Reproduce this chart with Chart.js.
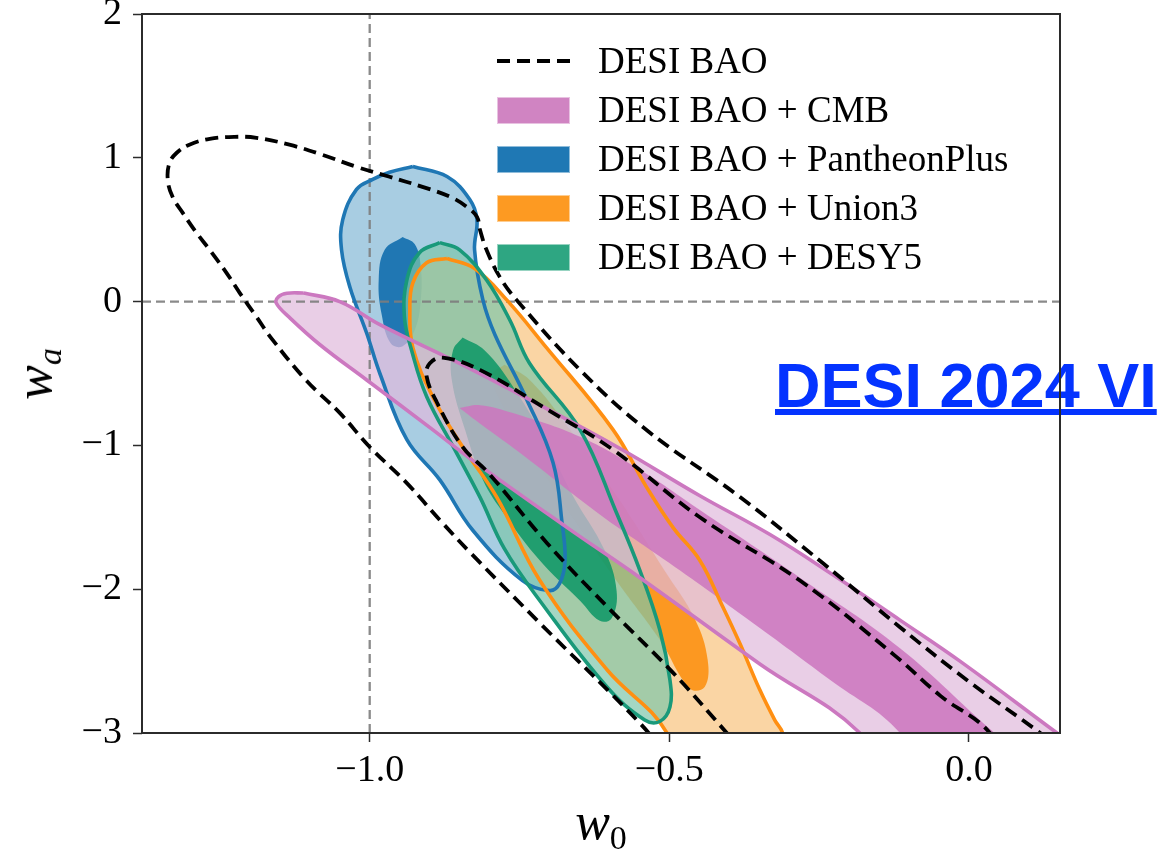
<!DOCTYPE html>
<html>
<head>
<meta charset="utf-8">
<title>w0 - wa</title>
<script src="https://cdn.jsdelivr.net/npm/chart.js@4.4.1/dist/chart.umd.min.js"></script>
<style>
  html, body { margin: 0; padding: 0; background: #fff; }
  #wrap { position: relative; width: 1176px; height: 861px; overflow: hidden; }
  #plot { position: absolute; left: 0; top: 0; z-index: 1; }
  .serif { font-family: "Liberation Serif", "Times New Roman", serif; color: #000; }
  .tag {
    position: absolute; left: 775px; top: 354px; z-index: 0;
    font: bold 63px/63px "Liberation Sans", Arial, sans-serif;
    color: #0433ff; white-space: nowrap;
    text-decoration: underline; text-decoration-thickness: 6px; text-underline-offset: 2px;
  }
  .legend { position: absolute; left: 0; top: 0; z-index: 2; }
  .legend .row { position: absolute; left: 497px; height: 36px; white-space: nowrap; }
  .legend .swatch { position: absolute; left: 0; top: 4.5px; width: 73px; height: 27px; box-sizing: border-box; }
  .legend .dash { position: absolute; left: 0; top: 16px; width: 73px; height: 3.5px;
    background: repeating-linear-gradient(to right, #000 0 13px, transparent 13px 20px); }
  .legend .label { position: absolute; left: 101px; top: 0; font-size: 37px; line-height: 36px; }
  .axtitle { position: absolute; z-index: 2; font-size: 52px; line-height: 52px; white-space: nowrap; }
  .axtitle .sub { font-size: 34px; position: relative; top: 10px; font-style: normal; }
</style>
</head>
<body>
<div id="wrap">
  <a class="tag" href="https://arxiv.org/abs/2404.03002">DESI 2024 VI</a>
  <canvas id="plot" width="1176" height="861"></canvas>
  <div class="legend serif" id="legend"></div>
  <div class="axtitle serif" style="left:601px; top:796px; transform:translateX(-50%);"><i>w</i><span class="sub">0</span></div>
  <div class="axtitle serif" style="left:37px; top:374px; transform:translate(-50%,-50%) rotate(-90deg);"><i>w</i><span class="sub"><i>a</i></span></div>
</div>
<script>
// ── Ejes ────────────────────────────────────────────────────────────────
const W0_MIN = -1.38, W0_MAX = 0.152;
const WA_MIN = -3, WA_MAX = 2;
const X_TICKS = [-1.0, -0.5, 0.0];
const X_TICK_LABELS = ['\u22121.0', '\u22120.5', '0.0'];
const Y_TICKS = [-3, -2, -1, 0, 1, 2];
const Y_TICK_LABELS = ['\u22123', '\u22122', '\u22121', '0', '1', '2'];

// lineas de referencia (LCDM)
const REF_W0 = -1;
const REF_WA = 0;

// ── Contornos [w0, wa] ──────────────────────────────────────────────────
// DESI BAO (solo lineas, se salen por abajo)
const BAO_95 = [[0.185,-3.22],[0.119,-3.00],[-0.003,-2.633],[-0.115,-2.264],[-0.244,-1.818],[-0.382,-1.359],[-0.538,-0.893],[-0.649,-0.475],[-0.755,0.012],[-0.783,0.172],[-0.805,0.36],[-0.816,0.499],[-0.821,0.589],[-0.838,0.659],[-0.866,0.729],[-0.912,0.798],[-0.967,0.868],[-1.022,0.937],[-1.079,1.021],[-1.134,1.091],[-1.189,1.139],[-1.225,1.146],[-1.267,1.132],[-1.301,1.091],[-1.322,1.035],[-1.334,0.965],[-1.337,0.847],[-1.329,0.729],[-1.312,0.617],[-1.289,0.478],[-1.267,0.36],[-1.239,0.20],[-1.217,0.061],[-1.189,-0.106],[-1.162,-0.266],[-1.105,-0.552],[-1.050,-0.774],[-1.000,-1.011],[-0.938,-1.262],[-0.883,-1.519],[-0.833,-1.742],[-0.716,-2.236],[-0.549,-2.932],[-0.499,-3.189]];
const BAO_68 = [[0.085,-3.40],[0.035,-3.00],[-0.048,-2.74],[-0.124,-2.46],[-0.282,-1.94],[-0.449,-1.50],[-0.594,-1.03],[-0.704,-0.75],[-0.816,-0.475],[-0.878,-0.39],[-0.900,-0.43],[-0.905,-0.52],[-0.888,-0.70],[-0.845,-1.01],[-0.800,-1.20],[-0.704,-1.68],[-0.604,-2.12],[-0.494,-2.58],[-0.404,-3.00],[-0.349,-3.26]];

// DESI BAO + CMB
const CMB_95 = [[-1.110,0.06],[-1.050,0.00],[-0.983,-0.16],[-0.850,-0.43],[-0.716,-0.72],[-0.583,-1.02],[-0.449,-1.35],[-0.332,-1.62],[-0.227,-1.90],[-0.115,-2.215],[-0.015,-2.50],[0.147,-3.00],[0.219,-3.22],[-0.149,-3.33],[-0.182,-3.00],[-0.349,-2.52],[-0.549,-1.92],[-0.671,-1.57],[-0.833,-1.09],[-0.895,-0.89],[-1.005,-0.545],[-1.083,-0.30],[-1.134,-0.11],[-1.156,-0.01],[-1.152,0.035],[-1.138,0.058]];
const CMB_68 = [[-0.850,-0.74],[-0.816,-0.72],[-0.761,-0.775],[-0.649,-0.94],[-0.549,-1.17],[-0.449,-1.45],[-0.282,-1.92],[-0.115,-2.41],[0.043,-3.00],[0.102,-3.19],[-0.082,-3.33],[-0.115,-3.00],[-0.232,-2.63],[-0.349,-2.27],[-0.482,-1.87],[-0.616,-1.48],[-0.750,-1.05],[-0.825,-0.82]];

// DESI BAO + PantheonPlus
const PAN_95 = [[-0.928,0.94],[-0.871,0.87],[-0.833,0.71],[-0.821,0.57],[-0.825,0.36],[-0.811,0.01],[-0.791,-0.23],[-0.738,-0.68],[-0.694,-1.12],[-0.679,-1.54],[-0.674,-1.80],[-0.683,-1.96],[-0.700,-2.01],[-0.745,-1.94],[-0.828,-1.59],[-0.883,-1.24],[-0.938,-0.96],[-0.983,-0.50],[-1.005,-0.22],[-1.033,0.10],[-1.047,0.36],[-1.045,0.57],[-1.022,0.78],[-0.995,0.85],[-0.967,0.90]];
const PAN_68 = [[-0.945,0.45],[-0.925,0.40],[-0.915,0.25],[-0.915,0.00],[-0.925,-0.20],[-0.945,-0.31],[-0.965,-0.29],[-0.980,-0.09],[-0.985,0.15],[-0.975,0.36]];

// DESI BAO + Union3
const UN3_95 = [[-0.871,0.30],[-0.825,0.23],[-0.771,0.01],[-0.705,-0.32],[-0.594,-0.89],[-0.538,-1.29],[-0.494,-1.57],[-0.449,-1.80],[-0.411,-2.12],[-0.382,-2.38],[-0.349,-2.70],[-0.324,-2.91],[-0.311,-3.00],[-0.299,-3.33],[-0.499,-3.33],[-0.504,-3.00],[-0.604,-2.56],[-0.716,-1.94],[-0.788,-1.36],[-0.845,-1.01],[-0.895,-0.66],[-0.928,-0.32],[-0.933,-0.06],[-0.928,0.13],[-0.905,0.27]];
const UN3_68 = [[-0.775,-0.44],[-0.733,-0.545],[-0.666,-0.89],[-0.583,-1.38],[-0.508,-1.87],[-0.457,-2.21],[-0.436,-2.49],[-0.441,-2.68],[-0.466,-2.69],[-0.516,-2.35],[-0.583,-1.97],[-0.658,-1.52],[-0.733,-1.03],[-0.783,-0.68],[-0.795,-0.51]];

// DESI BAO + DESY5
const DES_95 = [[-0.883,0.41],[-0.850,0.36],[-0.805,0.15],[-0.766,-0.13],[-0.733,-0.43],[-0.649,-0.89],[-0.588,-1.47],[-0.549,-1.87],[-0.516,-2.28],[-0.499,-2.63],[-0.499,-2.82],[-0.516,-2.92],[-0.541,-2.91],[-0.604,-2.68],[-0.716,-2.08],[-0.775,-1.72],[-0.816,-1.36],[-0.858,-1.03],[-0.905,-0.66],[-0.930,-0.34],[-0.942,-0.11],[-0.938,0.15],[-0.917,0.34]];
const DES_68 = [[-0.845,-0.25],[-0.808,-0.34],[-0.761,-0.59],[-0.708,-0.96],[-0.661,-1.35],[-0.608,-1.73],[-0.588,-2.01],[-0.596,-2.20],[-0.616,-2.22],[-0.649,-2.08],[-0.716,-1.80],[-0.775,-1.48],[-0.811,-1.24],[-0.841,-0.89],[-0.863,-0.545],[-0.861,-0.34]];

// ── Leyenda ─────────────────────────────────────────────────────────────
const LEGEND_LABELS = ['DESI BAO', 'DESI BAO + CMB', 'DESI BAO + PantheonPlus', 'DESI BAO + Union3', 'DESI BAO + DESY5'];
const LEGEND_COLORS = [null, '#d084c2', '#1f78b4', '#fd9a22', '#2ea682'];
const LEGEND_ROW_Y = [61, 110, 159, 208, 257];

// ── Estilos por muestra (95% claro, 68% oscuro) ─────────────────────────
const STYLE = {
  cmb: { line: '#cc78c0', c95: 'rgba(224,185,219,0.7)', c68: 'rgba(205,118,190,0.85)' },
  pan: { line: '#1f77b4', c95: 'rgba(131,184,214,0.7)', c68: 'rgba(8,105,172,0.85)' },
  un3: { line: '#ff8f12', c95: 'rgba(248,195,126,0.7)', c68: 'rgba(253,142,11,0.85)' },
  des: { line: '#19997a', c95: 'rgba(126,198,169,0.7)', c68: 'rgba(12,150,101,0.85)' },
};

const toXY = pts => pts.map(([x, y]) => ({ x, y }));
const closed = pts => toXY(pts.concat([pts[0]]));

const base = { showLine: true, pointRadius: 0, pointHoverRadius: 0, tension: 0.4, clip: 0 };

function area(pts, color) {
  return { ...base, data: closed(pts), fill: 'shape', backgroundColor: color,
    borderColor: 'rgba(0,0,0,0)', borderWidth: 0.01 };
}

function outline(pts, color) {
  return { ...base, data: closed(pts), fill: false, borderColor: color, borderWidth: 3.6 };
}

function dashed(pts, color, width, dash, tension) {
  return { ...base, data: toXY(pts), fill: false, borderColor: color, borderWidth: width,
    borderDash: dash, tension: tension };
}

// primero = encima
const datasets = [
  dashed(BAO_95, '#000', 3.8, [13, 7], 0.4),
  dashed(BAO_68, '#000', 3.8, [13, 7], 0.4),
  outline(CMB_95, STYLE.cmb.line),
  outline(DES_95, STYLE.des.line),
  outline(UN3_95, STYLE.un3.line),
  outline(PAN_95, STYLE.pan.line),
  dashed([[REF_W0, WA_MIN], [REF_W0, WA_MAX]], 'rgba(125,125,125,0.9)', 2.3, [9, 5], 0),
  dashed([[W0_MIN, REF_WA], [W0_MAX, REF_WA]], 'rgba(125,125,125,0.9)', 2.3, [9, 5], 0),
  area(CMB_68, STYLE.cmb.c68),
  area(CMB_95, STYLE.cmb.c95),
  area(DES_68, STYLE.des.c68),
  area(DES_95, STYLE.des.c95),
  area(UN3_68, STYLE.un3.c68),
  area(UN3_95, STYLE.un3.c95),
  area(PAN_68, STYLE.pan.c68),
  area(PAN_95, STYLE.pan.c95),
];

// marco completo alrededor del area del grafico
const framePlugin = {
  id: 'frame',
  afterDatasetsDraw(chart) {
    const { ctx, chartArea: a } = chart;
    ctx.save();
    ctx.strokeStyle = '#2b2b2b';
    ctx.lineWidth = 2;
    ctx.strokeRect(a.left, a.top, a.right - a.left, a.bottom - a.top);
    ctx.restore();
  },
};

const tickFont = { family: '"Liberation Serif", "Times New Roman", serif', size: 38 };
const grid = { drawOnChartArea: false, drawTicks: true, tickLength: 9, tickColor: '#2b2b2b', tickWidth: 1.5, color: '#2b2b2b' };

new Chart(document.getElementById('plot'), {
  type: 'scatter',
  data: { datasets },
  options: {
    responsive: false,
    devicePixelRatio: 1,
    animation: false,
    events: [],
    layout: { padding: { left: 0, top: 14, right: 116, bottom: 0 } },
    elements: { line: { capBezierPoints: false } },
    plugins: {
      legend: { display: false },
      tooltip: { enabled: false },
      filler: { propagate: false, drawTime: 'beforeDatasetDraw' },
    },
    scales: {
      x: {
        type: 'linear', min: W0_MIN, max: W0_MAX,
        grid, border: { display: false },
        ticks: { font: tickFont, color: '#000', padding: 6, autoSkip: false, maxRotation: 0,
          callback: v => X_TICK_LABELS[X_TICKS.findIndex(t => Math.abs(t - v) < 1e-9)] },
        afterBuildTicks: s => { s.ticks = X_TICKS.map(value => ({ value })); },
        afterFit: s => { s.height = 128; s.paddingLeft = 0; s.paddingRight = 0; },
      },
      y: {
        type: 'linear', min: WA_MIN, max: WA_MAX,
        grid, border: { display: false },
        ticks: { font: tickFont, color: '#000', padding: 11, autoSkip: false,
          callback: v => Y_TICK_LABELS[Y_TICKS.indexOf(v)] },
        afterBuildTicks: s => { s.ticks = Y_TICKS.map(value => ({ value })); },
        afterFit: s => { s.width = 142; s.paddingTop = 0; s.paddingBottom = 0; },
      },
    },
  },
  plugins: [framePlugin],
});

// leyenda en HTML
const legend = document.getElementById('legend');
LEGEND_LABELS.forEach((label, i) => {
  const row = document.createElement('div');
  row.className = 'row';
  row.style.top = (LEGEND_ROW_Y[i] - 18) + 'px';
  const mark = document.createElement('div');
  if (LEGEND_COLORS[i]) {
    mark.className = 'swatch';
    mark.style.background = LEGEND_COLORS[i];
    mark.style.border = '1px solid rgba(255,255,255,0.5)';
  } else {
    mark.className = 'dash';
  }
  const txt = document.createElement('div');
  txt.className = 'label';
  txt.textContent = label;
  row.appendChild(mark);
  row.appendChild(txt);
  legend.appendChild(row);
});
</script>
</body>
</html>
